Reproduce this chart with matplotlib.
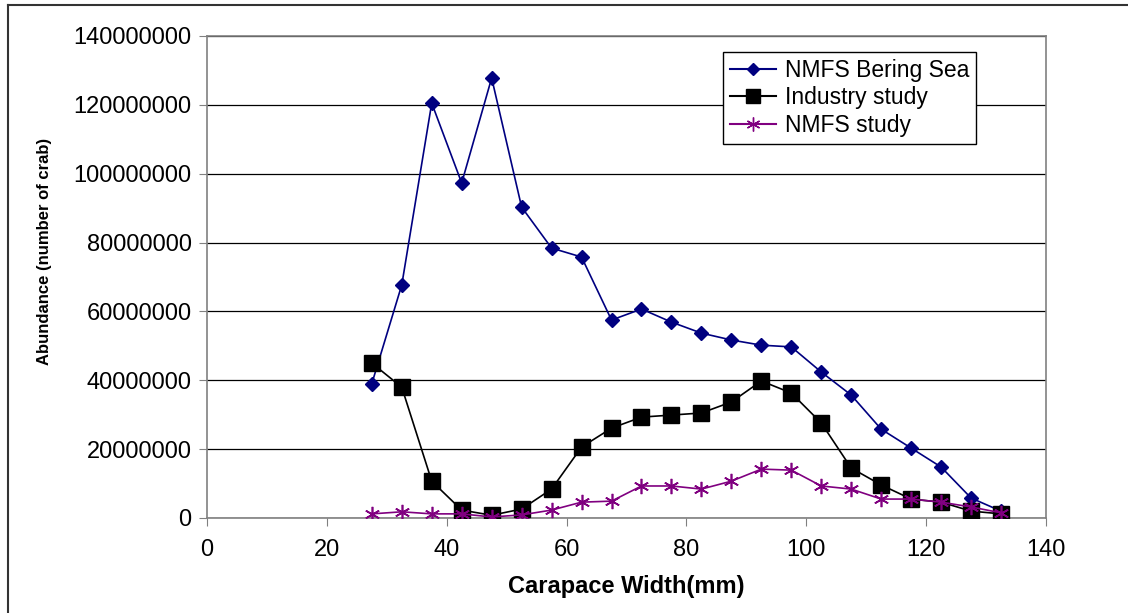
import matplotlib.pyplot as plt
from matplotlib.lines import Line2D

width_mm = [27.5, 32.5, 37.5, 42.5, 47.5, 52.5, 57.5, 62.5, 67.5, 72.5, 77.5,
            82.5, 87.5, 92.5, 97.5, 102.5, 107.5, 112.5, 117.5, 122.5, 127.5, 132.5]
bering_sea = [39.0e6, 67.7e6, 120.5e6, 97.3e6, 127.8e6, 90.3e6, 78.4e6, 75.8e6,
              57.5e6, 60.7e6, 56.9e6, 53.7e6, 51.7e6, 50.2e6, 49.7e6, 42.4e6,
              35.7e6, 25.8e6, 20.3e6, 14.8e6, 5.8e6, 2.0e6]
industry = [45.0e6, 38.0e6, 10.7e6, 2.3e6, 0.8e6, 2.6e6, 8.4e6, 20.6e6, 26.1e6,
            29.3e6, 29.9e6, 30.5e6, 33.7e6, 39.8e6, 36.3e6, 27.6e6, 14.5e6,
            9.6e6, 5.5e6, 4.6e6, 2.0e6, 1.2e6]
nmfs_study = [1.2e6, 1.8e6, 1.2e6, 1.2e6, 0.3e6, 0.9e6, 2.3e6, 4.6e6, 4.9e6,
              9.3e6, 9.3e6, 8.4e6, 10.7e6, 14.2e6, 13.9e6, 9.3e6, 8.4e6, 5.5e6,
              5.5e6, 4.6e6, 3.2e6, 1.5e6]
labels = ['NMFS Bering Sea', 'Industry study', 'NMFS study']

plt.rcParams['font.family'] = ['Liberation Sans', 'DejaVu Sans']

fig = plt.figure(figsize=(11.28, 6.13), dpi=100)
ax = fig.add_axes([207 / 1128, 1 - 518 / 613, 839 / 1128, 482 / 613])

ax.plot(width_mm, bering_sea, color='#000080', marker='D', markersize=7,
        linewidth=1.2, label=labels[0], zorder=3)
ax.plot(width_mm, industry, color='black', marker='s', markersize=11,
        linewidth=1.2, label=labels[1], zorder=3)
ax.plot(width_mm, nmfs_study, color='#800080', marker=(6, 2, 0), markersize=11,
        markeredgewidth=1.2, linewidth=1.2, label=labels[2], zorder=4)

ax.set_xlim(0, 140)
ax.set_ylim(0, 140000000)
ax.set_xticks(range(0, 141, 20))
ax.set_yticks(range(0, 140000001, 20000000))
ax.set_yticklabels([str(v) for v in range(0, 140000001, 20000000)])
ax.yaxis.grid(True, color='black', linewidth=0.9)
ax.set_axisbelow(True)
for s in ax.spines.values():
    s.set_color('#808080')
    s.set_linewidth(1.2)
ax.tick_params(direction='out', length=6, color='#808080', labelsize=17, pad=5)
ax.tick_params(axis='x', pad=9)

ax.set_xlabel('Carapace Width(mm)', fontsize=17, fontweight='bold', labelpad=10)
ax.set_ylabel('Abundance (number of crab)', fontsize=12, fontweight='bold')
ax.yaxis.set_label_coords(-0.185, 0.552)

handles = [Line2D([], [], color='#000080', marker='D', markersize=6),
           Line2D([], [], color='black', marker='s', markersize=10),
           Line2D([], [], color='#800080', marker=(6, 2, 0), markersize=10)]
leg = ax.legend(handles, labels, loc='upper left', bbox_to_anchor=(516 / 839, 1 - 16 / 482),
                fontsize=16.5, frameon=True, fancybox=False, framealpha=1,
                edgecolor='black', handlelength=2.0, handletextpad=0.4,
                borderpad=0.3, labelspacing=0.2, borderaxespad=0)
leg.get_frame().set_linewidth(1.0)

# outer chart border (top and left only visible)
fig.add_artist(Line2D([8 / 1128, 1], [1 - 5 / 613, 1 - 5 / 613], color='#333333', linewidth=1.5))
fig.add_artist(Line2D([8 / 1128, 8 / 1128], [0, 1 - 5 / 613], color='#333333', linewidth=1.5))

fig.savefig('out.png', dpi=100)
